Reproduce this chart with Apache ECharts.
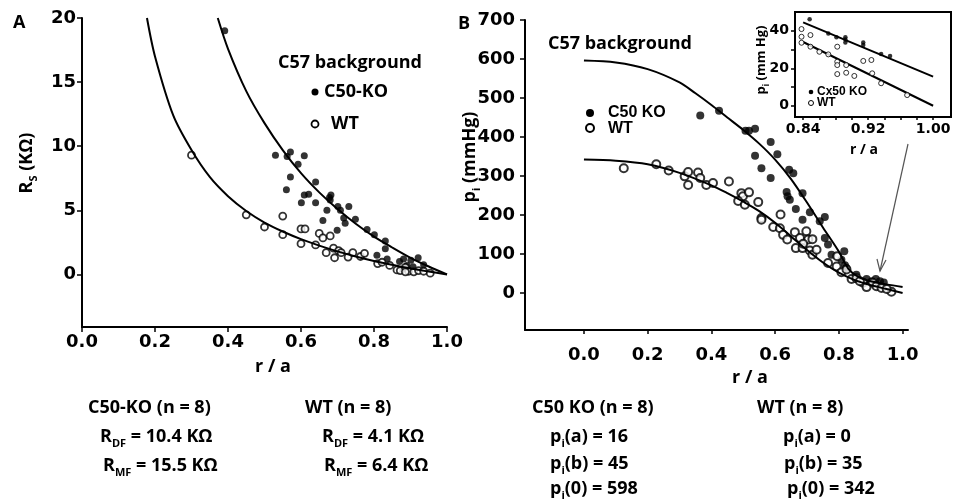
<!DOCTYPE html>
<html><head><meta charset="utf-8">
<script src="https://cdn.jsdelivr.net/npm/echarts/dist/echarts.min.js"></script>
<style>html,body{margin:0;padding:0;background:#fff}#c{width:956px;height:500px}</style>
</head><body><div id="c"></div>
<script>
// ---------- Panel A: series resistance Rs (KΩ) vs r/a ----------
const koA = [[0.391,19.0],[0.530,9.3],[0.562,9.2],[0.571,9.55],[0.609,9.25],[0.592,8.6],[0.571,7.6],[0.560,6.6],[0.640,7.2],[0.601,5.6],[0.609,6.2],[0.621,6.25],[0.640,5.6],[0.660,4.2],[0.671,5.0],[0.678,6.0],[0.682,6.2],[0.680,5.8],[0.701,5.3],[0.708,5.0],[0.731,5.3],[0.699,3.45],[0.717,4.4],[0.721,4.0],[0.749,4.3],[0.781,3.5],[0.801,3.1],[0.831,2.6],[0.831,2.0],[0.808,1.5],[0.836,1.2],[0.870,1.0],[0.881,1.2],[0.901,1.1],[0.921,1.3],[0.936,0.75],[0.907,0.6],[0.890,0.7]];
const wtA = [[0.300,9.3],[0.450,4.65],[0.500,3.7],[0.550,4.55],[0.550,3.1],[0.600,3.55],[0.611,3.55],[0.600,2.4],[0.640,2.3],[0.650,3.2],[0.660,2.85],[0.680,3.0],[0.669,1.7],[0.689,2.05],[0.692,1.3],[0.703,1.85],[0.710,1.7],[0.729,1.35],[0.742,1.7],[0.763,1.4],[0.774,1.65],[0.810,0.85],[0.822,0.95],[0.843,0.7],[0.863,0.35],[0.872,0.3],[0.886,0.55],[0.895,0.25],[0.909,0.2],[0.922,0.3],[0.936,0.25],[0.954,0.1],[0.886,0.2]];
const koFitA = [[0.372,20],[0.4,17.6],[0.45,14.3],[0.5,11.8],[0.55,9.7],[0.6,7.9],[0.65,6.4],[0.7,5.1],[0.75,3.95],[0.8,2.95],[0.85,2.1],[0.9,1.3],[0.95,0.62],[1.0,0]];
const wtFitA = [[0.178,20],[0.2,17.0],[0.25,12.4],[0.3,9.7],[0.35,7.6],[0.4,6.1],[0.45,4.95],[0.5,4.05],[0.55,3.35],[0.6,2.75],[0.65,2.25],[0.7,1.8],[0.75,1.4],[0.8,1.05],[0.85,0.75],[0.9,0.47],[0.95,0.22],[1.0,0]];
const xTicksA = [0,0.2,0.4,0.6,0.8,1.0];
const yTicksA = [0,5,10,15,20];

// ---------- Panel B: intracellular pressure pi (mmHg) vs r/a ----------
const koB = [[0.365,455],[0.424,467],[0.507,416],[0.518,416],[0.537,421],[0.537,352],[0.557,320],[0.586,387],[0.586,295],[0.607,356],[0.644,316],[0.657,307],[0.636,259],[0.639,248],[0.646,239],[0.665,215],[0.686,256],[0.686,188],[0.709,207],[0.740,184],[0.756,195],[0.756,141],[0.766,124],[0.777,98],[0.817,107],[0.808,85],[0.819,71],[0.824,64],[0.855,47],[0.887,36],[0.916,36],[0.941,27],[0.929,30],[0.903,30]];
const wtB = [[0.125,320],[0.227,330],[0.266,314],[0.316,299],[0.327,310],[0.327,277],[0.358,309],[0.365,295],[0.384,277],[0.405,282],[0.455,286],[0.494,256],[0.499,248],[0.518,258],[0.484,236],[0.505,226],[0.547,233],[0.557,192],[0.557,188],[0.594,169],[0.617,201],[0.615,166],[0.625,149],[0.638,137],[0.662,156],[0.665,115],[0.678,141],[0.686,115],[0.698,158],[0.704,137],[0.717,138],[0.688,126],[0.709,109],[0.717,98],[0.730,111],[0.766,77],[0.793,68],[0.795,94],[0.808,53],[0.824,60],[0.840,36],[0.855,38],[0.876,26],[0.887,15],[0.906,26],[0.918,17],[0.934,13],[0.965,3],[0.950,10],[0.866,30]];
const koFitB = [[0,596],[0.1,591],[0.2,574],[0.3,540],[0.35,512],[0.4,482],[0.45,450],[0.5,418],[0.55,383],[0.6,342],[0.65,292],[0.7,232],[0.75,168],[0.8,106],[0.83,62],[0.86,42],[0.9,30],[0.95,22],[1.0,15]];
const wtFitB = [[0,342],[0.1,339],[0.2,330],[0.3,308],[0.4,276],[0.45,256],[0.5,234],[0.55,210],[0.6,180],[0.65,145],[0.7,110],[0.75,78],[0.8,52],[0.85,33],[0.9,20],[0.95,10],[1.0,0]];
const xTicksB = [0,0.2,0.4,0.6,0.8,1.0];
const yTicksB = [0,100,200,300,400,500,600,700];

// ---------- Inset: pi near the surface ----------
const koIn = [[0.848,46.1],[0.871,38.6],[0.881,36.5],[0.892,36.5],[0.892,35.4],[0.892,33.8],[0.914,33.8],[0.914,32.4],[0.936,27.6],[0.947,26.5]];
const wtIn = [[0.838,40.9],[0.838,36.8],[0.838,33.6],[0.849,37.7],[0.849,31.5],[0.860,28.8],[0.871,27.4],[0.882,31.5],[0.882,23.5],[0.882,21.7],[0.882,16.9],[0.893,21.7],[0.893,17.6],[0.903,15.9],[0.914,23.9],[0.924,24.4],[0.925,17.3],[0.936,12.0],[0.968,5.7]];
const koFitIn = [[0.84,44.5],[1.0,15.5]];
const wtFitIn = [[0.84,34],[1.0,0]];
const xTicksIn = [0.84,0.86,0.88,0.90,0.92,0.94,0.96,0.98,1.00];
const xLabelsIn = [0.84,0.92,1.00];
const yTicksIn = [0,10,20,30,40];
const yLabelsIn = [0,20,40];

const TF = 'DejaVu Sans';
const AF = 'Open Sans';
const chart = echarts.init(document.getElementById('c'), null, {renderer:'canvas'});

function xAx(gi, min, max, ticks, labels, fs, margin, dec, tlen){
  return {type:'value', gridIndex:gi, min:min, max:max, splitLine:{show:false},
    axisLine:{show:true, onZero:false, lineStyle:{color:'#000', width:2}},
    axisTick:{show:true, customValues:ticks, length:tlen, inside:false, lineStyle:{color:'#000', width:1.5}},
    axisLabel:{show:true, customValues:labels, margin:margin, color:'#000', fontFamily:TF, fontWeight:'bold', fontSize:fs,
      formatter:v=>Number(v).toFixed(dec)}};
}
function yAx(gi, min, max, ticks, labels, fs, margin, tlen){
  return {type:'value', gridIndex:gi, min:min, max:max, splitLine:{show:false},
    axisLine:{show:true, onZero:false, lineStyle:{color:'#000', width:2}},
    axisTick:{show:true, customValues:ticks, length:tlen, inside:false, lineStyle:{color:'#000', width:1.5}},
    axisLabel:{show:true, customValues:labels, margin:margin, color:'#000', fontFamily:TF, fontWeight:'bold', fontSize:fs,
      formatter:v=>String(v)}};
}
function sc(name, data, xi, filled, size, bw){
  return {name:name, type:'scatter', xAxisIndex:xi, yAxisIndex:xi, data:data, symbol:'circle', symbolSize:size,
    itemStyle: filled ? {color:'#000', borderWidth:0} : {color:'#fff', borderColor:'#000', borderWidth:bw},
    silent:true, animation:false, z:3};
}
function ln(data, xi, w, smooth){
  return {type:'line', xAxisIndex:xi, yAxisIndex:xi, data:data, symbol:'none', showSymbol:false, smooth:smooth,
    lineStyle:{color:'#000', width:w}, clip:true, silent:true, animation:false, z:4};
}
function txt(x, y, text, fs, fam, opts){
  return Object.assign({type:'text', x:x, y:y, silent:true, z:10, style:Object.assign({text:text, fill:'#000', font:'bold '+fs+'px "'+fam+'"', align:'left', verticalAlign:'middle'}, (opts&&opts.style)||{})}, (opts&&opts.el)||{});
}
function sub(x, y, main1, s, main2, fs, fam){
  return {type:'text', x:x, y:y, silent:true, z:10, style:{
    text:'{a|'+main1+'}{s|'+s+'}{a|'+main2+'}', align:'left', verticalAlign:'middle',
    rich:{a:{fontSize:fs, fontFamily:fam, fontWeight:'bold', fill:'#000', color:'#000', lineHeight:fs+6, verticalAlign:'middle'},
          s:{fontSize:Math.round(fs*0.6), fontFamily:fam, fontWeight:'bold', fill:'#000', color:'#000', lineHeight:fs+6, verticalAlign:'bottom'}}}};
}
function rotSub(x, y, main1, s, main2, fs, fam){
  const o = sub(x, y, main1, s, main2, fs, fam);
  o.style.align = 'center'; o.rotation = Math.PI/2; return o;
}
function dot(x, y, r, filled, bw){
  return {type:'circle', silent:true, z:10, shape:{cx:x, cy:y, r:r}, style: filled ? {fill:'#000'} : {fill:'#fff', stroke:'#000', lineWidth:bw}};
}

const option = {
  backgroundColor:'#fff', animation:false,
  grid:[
    {left:82, top:18, width:365, height:309, outerBoundsMode:'none', containLabel:false},
    {left:525, top:20, width:383, height:310, outerBoundsMode:'none', containLabel:false},
    {left:795, top:12, width:156, height:105, outerBoundsMode:'none', containLabel:false, show:true, borderColor:'#000', borderWidth:2, backgroundColor:'#fff', z:5}
  ],
  xAxis:[
    xAx(0, 0, 1.0, xTicksA, xTicksA, 18, 6, 1, 5),
    xAx(1, -0.185, 1.017, xTicksB, xTicksB, 18, 16, 1, 4),
    Object.assign(xAx(2, 0.83, 1.022, xTicksIn, xLabelsIn, 14, 5, 2, 3), {z:6})
  ],
  yAxis:[
    yAx(0, -4.1, 20, yTicksA, yTicksA, 18, 6, 5),
    yAx(1, -95, 700, yTicksB, yTicksB, 18, 10, 5),
    Object.assign(yAx(2, -6, 50, yTicksIn, yLabelsIn, 14, 6, 4), {z:6})
  ],
  series:[
    ln(koFitA, 0, 2, 0.3), ln(wtFitA, 0, 2, 0.3),
    sc('C50-KO', koA, 0, true, 7), sc('WT', wtA, 0, false, 7, 1.8),
    ln(koFitB, 1, 2, 0.3), ln(wtFitB, 1, 2, 0.3),
    sc('C50 KO', koB, 1, true, 8), sc('WT', wtB, 1, false, 8, 2),
    Object.assign(ln(koFitIn, 2, 2, false), {z:7}), Object.assign(ln(wtFitIn, 2, 2, false), {z:7}),
    Object.assign(sc('Cx50 KO', koIn, 2, true, 4.5), {z:7}), Object.assign(sc('WT', wtIn, 2, false, 5, 1), {z:7})
  ],
  graphic:[
    txt(13, 23, 'A', 18, AF),
    txt(458, 24, 'B', 18, AF),
    rotSub(27, 163, 'R', 'S', ' (KΩ)', 18, AF),
    rotSub(470, 157, 'p', 'i', ' (mmHg)', 18, AF),
    rotSub(761, 60, 'p', 'i', ' (mm Hg)', 13, AF),
    txt(273, 367, 'r / a', 18, AF, {style:{align:'center'}}),
    txt(750, 378, 'r / a', 18, AF, {style:{align:'center'}}),
    txt(864, 150, 'r / a', 14, AF, {style:{align:'center'}}),
    // legend A
    txt(278, 63, 'C57 background', 18, AF),
    dot(315, 92, 3.5, true), txt(324, 92, 'C50-KO', 18, AF),
    dot(315, 124, 3.5, false, 1.8), txt(331, 124, 'WT', 18, AF),
    // legend B
    txt(548, 44, 'C57 background', 18, AF),
    dot(590, 113, 4, true), txt(608, 113, 'C50 KO', 16, 'Liberation Sans'),
    dot(590, 128, 4, false, 2), txt(608, 129, 'WT', 16, 'Liberation Sans'),
    // legend inset
    dot(811, 92, 2.3, true), txt(817, 92, 'Cx50 KO', 12, 'Liberation Sans'),
    dot(811, 103, 2.5, false, 1), txt(817, 103, 'WT', 12, 'Liberation Sans'),
    // arrow
    {type:'line', silent:true, z:10, shape:{x1:908, y1:144, x2:880, y2:271}, style:{stroke:'#555', lineWidth:1.2}},
    {type:'polyline', silent:true, z:10, shape:{points:[[877,259],[880,271],[886,260]]}, style:{stroke:'#555', lineWidth:1.2, fill:null}},
    // bottom annotations
    txt(88, 408, 'C50-KO (n = 8)', 18, AF),
    sub(100, 437, 'R', 'DF', ' = 10.4 KΩ', 18, AF),
    sub(103, 466, 'R', 'MF', ' = 15.5 KΩ', 18, AF),
    txt(305, 408, 'WT (n = 8)', 18, AF),
    sub(322, 437, 'R', 'DF', ' = 4.1 KΩ', 18, AF),
    sub(324, 466, 'R', 'MF', ' = 6.4 KΩ', 18, AF),
    txt(532, 408, 'C50 KO (n = 8)', 18, AF),
    sub(550, 437, 'p', 'i', '(a) = 16', 18, AF),
    sub(550, 464, 'p', 'i', '(b) = 45', 18, AF),
    sub(550, 489, 'p', 'i', '(0) = 598', 18, AF),
    txt(757, 408, 'WT (n = 8)', 18, AF),
    sub(783, 437, 'p', 'i', '(a) = 0', 18, AF),
    sub(784, 464, 'p', 'i', '(b) = 35', 18, AF),
    sub(787, 489, 'p', 'i', '(0) = 342', 18, AF)
  ]
};
chart.setOption(option);
</script></body></html>
